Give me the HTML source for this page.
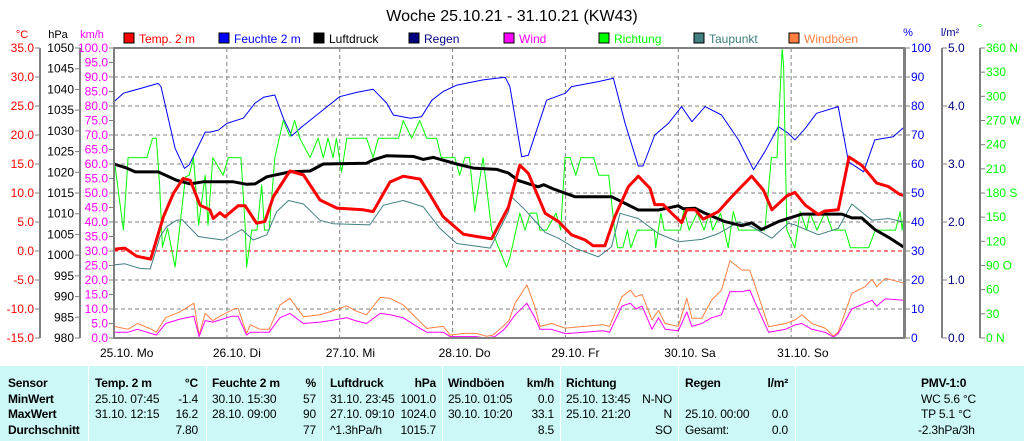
<!DOCTYPE html>
<html><head><meta charset="utf-8"><style>
body{margin:0;width:1024px;height:441px;background:#fff;overflow:hidden;font-family:"Liberation Sans",sans-serif;position:relative}
#tbl{position:absolute;left:0;top:366px;width:1024px;height:75px;background:#ccf8f8;font-size:12px;color:#000}
#tbl .sep{position:absolute;top:0;width:1px;height:75px;background:#fff}
#tbl span{position:absolute;white-space:nowrap;letter-spacing:-0.2px}
#tbl .b{font-weight:bold}
</style></head><body>
<svg id="chart" width="1024" height="366" style="position:absolute;left:0;top:0" font-family="Liberation Sans, sans-serif" font-size="12"></svg>
<div id="tbl">
<div class="sep" style="left:88px"></div><div class="sep" style="left:206px"></div><div class="sep" style="left:322px"></div><div class="sep" style="left:442px"></div><div class="sep" style="left:560px"></div><div class="sep" style="left:678px"></div><div class="sep" style="left:795px"></div>
<span class="b" style="left:8px;top:10px">Sensor</span><span class="b" style="left:8px;top:26px">MinWert</span><span class="b" style="left:8px;top:41px">MaxWert</span><span class="b" style="left:8px;top:57px">Durchschnitt</span>
<span class="b" style="left:95px;top:10px">Temp. 2 m</span><span class="b" style="right:826px;top:10px">°C</span>
<span style="left:95px;top:26px">25.10.  07:45</span><span style="right:826px;top:26px">-1.4</span>
<span style="left:95px;top:41px">31.10.  12:15</span><span style="right:826px;top:41px">16.2</span>
<span style="right:826px;top:57px">7.80</span>
<span class="b" style="left:212px;top:10px">Feuchte  2 m</span><span class="b" style="right:708px;top:10px">%</span>
<span style="left:212px;top:26px">30.10.  15:30</span><span style="right:708px;top:26px">57</span>
<span style="left:212px;top:41px">28.10.  09:00</span><span style="right:708px;top:41px">90</span>
<span style="right:708px;top:57px">77</span>
<span class="b" style="left:330px;top:10px">Luftdruck</span><span class="b" style="right:588px;top:10px">hPa</span>
<span style="left:330px;top:26px">31.10.  23:45</span><span style="right:588px;top:26px">1001.0</span>
<span style="left:330px;top:41px">27.10.  09:10</span><span style="right:588px;top:41px">1024.0</span>
<span style="left:330px;top:57px">^1.3hPa/h</span><span style="right:588px;top:57px">1015.7</span>
<span class="b" style="left:448px;top:10px">Windböen</span><span class="b" style="right:470px;top:10px">km/h</span>
<span style="left:448px;top:26px">25.10.  01:05</span><span style="right:470px;top:26px">0.0</span>
<span style="left:448px;top:41px">30.10.  10:20</span><span style="right:470px;top:41px">33.1</span>
<span style="right:470px;top:57px">8.5</span>
<span class="b" style="left:566px;top:10px">Richtung</span>
<span style="left:566px;top:26px">25.10.  13:45</span><span style="right:352px;top:26px">N-NO</span>
<span style="left:566px;top:41px">25.10.  21:20</span><span style="right:352px;top:41px">N</span>
<span style="right:352px;top:57px">SO</span>
<span class="b" style="left:685px;top:10px">Regen</span><span class="b" style="right:236px;top:10px">l/m²</span>
<span style="left:685px;top:41px">25.10.  00:00</span><span style="right:236px;top:41px">0.0</span>
<span style="left:685px;top:57px">Gesamt:</span><span style="right:236px;top:57px">0.0</span>
<span class="b" style="left:921px;top:10px">PMV-1:0</span>
<span style="left:921px;top:26px">WC 5.6 °C</span><span style="left:921px;top:41px">TP 5.1 °C</span><span style="left:918px;top:57px">-2.3hPa/3h</span>
</div>
<script>
const dayLabels=["25.10. Mo","26.10. Di","27.10. Mi","28.10. Do","29.10. Fr","30.10. Sa","31.10. So"];
const tempTicks=[35,30,25,20,15,10,5,0,-5,-10,-15];
const pressTicks=[1050,1045,1040,1035,1030,1025,1020,1015,1010,1005,1000,995,990,985,980];
const windTicks=[100,95,90,85,80,75,70,65,60,55,50,45,40,35,30,25,20,15,10,5,0];
const humTicks=[100,90,80,70,60,50,40,30,20,10,0];
const rainTicks=[5,4,3,2,1,0];
const dirTicks=[360,330,300,270,240,210,180,150,120,90,60,30,0];
const dirNames={360:"N",270:"W",180:"S",90:"O",0:"N"};
const humidity=[[0,81.5],[2,84.4],[5.5,86],[9.4,87.8],[10,86.7],[13,65.4],[15,58.5],[16,59.7],[19.4,71],[20.4,71],[22.2,71.7],[24,74],[27.5,75.8],[30,81],[31.8,83],[34.2,83.8],[36,75.8],[37.8,69.7],[40,72.9],[43.1,76.9],[48,83.2],[51.6,84.7],[55.1,85.8],[58,81],[59.4,76.9],[63,75.8],[65.4,76.3],[67.6,82],[70,85],[72.9,87.2],[78.5,89],[83.2,89.9],[84.2,86.7],[86.7,62.5],[88.1,63],[92,82],[96,84.4],[97.3,86.7],[103,88.4],[106.2,89.6],[108.7,74],[111.5,59.3],[112.5,59.3],[115,70],[117.9,74],[120.7,79.8],[122.9,74.6],[125.7,79.8],[129.2,76.9],[132.8,68.3],[136,58],[138.4,64.2],[141.3,72.9],[143.4,70.6],[144.8,68.3],[147,72.3],[149.4,77.5],[154,79.8],[156.2,60.8],[159.4,57.3],[161.8,68.3],[165.7,69.4],[168,72.7]];
const temperature=[[0,0.3],[2.3,0.5],[4.8,-0.9],[7.8,-1.4],[10.5,5.9],[12.6,9.9],[14.7,12.5],[16.2,12.2],[18.3,7.9],[20.4,7.1],[21.1,5.6],[22.5,6.6],[23.6,5.9],[26.4,7.8],[27.9,7.8],[30.3,4.8],[32.1,5.1],[33.9,9.4],[37.4,13.8],[40.3,13.1],[43.8,8.8],[47.4,7.4],[53,7.1],[55.1,6.8],[58.7,11.9],[61.5,12.9],[65.1,12.4],[67.2,9.7],[70,5.9],[74.3,2.9],[77.1,2.5],[80.3,2.1],[83.9,7.6],[86.3,14.8],[88.1,13.4],[91.7,6.5],[94.5,5.1],[97.3,2.8],[100.2,1.9],[101.9,0.9],[104.4,0.9],[106.5,5.9],[109.4,11.1],[111.5,12.9],[114,10.8],[115,8.0],[116.8,8.0],[118.6,6.5],[120.7,4.9],[121.8,7.1],[123.6,7.1],[125.3,5.5],[128.5,6.8],[131.4,9.4],[135.6,12.9],[138.1,10.5],[139.9,7.1],[143.1,9.5],[144.8,10.1],[147,7.9],[149.8,6.3],[151.2,6.9],[154,7.1],[156.3,16.2],[159,14.8],[162.2,11.7],[164.7,11.1],[167.2,9.7],[168,9.6]];
const pressure=[[0,1022],[2.7,1021],[4.5,1020.1],[9.4,1020.1],[13.3,1018.1],[16.2,1017.2],[19,1017.7],[25.4,1017.7],[28.2,1017.1],[30,1017.2],[32.5,1018.9],[37.4,1020.1],[41.7,1020.3],[44.5,1022],[53.7,1022.2],[55.1,1023],[58,1024],[63.7,1023.8],[65.8,1023.1],[67.9,1023.6],[72.9,1022],[76.4,1021],[81.4,1020.7],[83.9,1019.8],[86,1018],[90.2,1016.5],[91.4,1017],[93.4,1016],[98,1014.1],[105.8,1014.1],[111.5,1010.9],[115.8,1010.9],[120,1011.9],[121,1011.2],[123.6,1011.3],[125.7,1010.1],[129.9,1008.1],[133.5,1007.1],[135.6,1007.8],[137.7,1006.2],[141.3,1008.1],[146.3,1009.9],[154.8,1009.9],[156.9,1009],[159,1009],[161.8,1006.2],[164.7,1004.3],[168,1001.9]];
const dewpoint=[[0,-2.4],[2.3,-2.2],[5.5,-3],[7.7,-3.1],[9.8,2.5],[11.2,4.2],[13.3,5.3],[14.5,5.4],[17.9,2.5],[20.4,2.2],[23.2,1.9],[27.2,3.7],[29.6,1.9],[32.5,2.8],[34.6,6.8],[37.1,8.7],[40.3,8.1],[43.8,5.3],[46.6,4.7],[54.4,4.5],[57.3,7.9],[61.5,8.7],[65.8,7.6],[69.3,3.9],[72.9,1.3],[75.6,1],[80,0.5],[83.9,6.8],[84.6,9.3],[87.4,7.1],[91.7,3.2],[94.5,2.2],[98,0.5],[103,-1],[105.8,0.7],[107.6,6.5],[111.5,5.6],[115.8,3],[120,1.6],[125,2],[128.5,3],[132.8,5],[135.6,4.2],[139.9,2.2],[143.4,4.8],[144.8,4.5],[149.8,2.8],[154,3.9],[156.9,8.1],[161.2,5.3],[164.7,5.6],[168,5]];
const gusts=[[0,4],[3,3],[5,5],[8,3],[9,2],[11,7],[14,9],[17,12],[18.1,1],[19.4,8.5],[21,6],[22.5,7.5],[25.7,10.2],[26.4,10.2],[28.2,1.6],[29,4.6],[31,3],[33,3],[35.3,11.4],[37.4,13.7],[40.3,7.3],[43.8,8],[45.9,9],[49.5,11.1],[51.3,9.4],[53.7,8],[56.6,14],[58.7,13.7],[61.5,11.4],[64.4,6.7],[66.5,3.3],[70,4],[71.5,1],[74.3,1.6],[77.1,1.6],[79.2,0.6],[80.6,1],[82.7,4],[84,6],[85.3,12],[87.8,18.3],[89.5,10.8],[90.6,4],[93.1,5],[95.9,3.4],[100,4],[104,4.6],[105.4,4],[108,14.2],[109.8,16.5],[110.9,14.2],[112.3,15],[114.4,6.2],[115.8,9.5],[117.2,5],[120,4],[121.8,13.7],[122.9,6.8],[125,6.8],[127.1,13.1],[129.2,16.5],[131,26.7],[133.5,23.4],[135.2,23.4],[136.4,17.7],[139.2,3.9],[142.8,5],[144.8,6.2],[146.3,8],[148.4,5],[151.2,3.4],[153,0.7],[154,2],[156.9,15.4],[159.7,17.7],[161.2,20.2],[162.2,17.7],[164,20.6],[168,18.9]];
const wind=[[0,2],[3,2],[5,3],[8,1.5],[9,1],[11,5],[14,6.5],[17,7.5],[18.1,0.5],[19.4,6],[21,5.5],[25,7.5],[26.4,7.5],[28.2,1],[29,2],[31,2],[33,2],[35.3,7],[37.4,8.5],[40.3,5],[43.8,5.5],[46,6],[49.5,7],[51.3,6],[53.7,5],[56.6,8.5],[58.7,8],[61.5,7],[64.4,4],[66.5,2],[70,2],[71.5,0.5],[74,0.5],[77,0.5],[79,0],[81,0.5],[83,3],[84,5],[85.3,8],[87.8,12],[89.5,7],[90.6,3],[93,3],[96,1.5],[100,2],[104,2.5],[105.4,2],[108,11],[109.8,12],[111,10],[112.3,11],[114.4,3],[115.8,7],[117.2,3],[120,2.5],[121.8,9],[122.9,4],[125,5],[127.1,7],[129.2,8],[131,16],[133.5,16],[135.2,16.5],[136.4,12],[139.2,2],[142.8,3],[144.8,4.5],[146.3,5],[148.4,3],[151.2,2],[153,0.3],[154,1.5],[156.9,10],[159.7,12],[161.2,13],[162.2,11],[164,13.5],[168,13]];
const direction=[[0,224],[2,134],[3,224],[7,224],[8.2,248],[9,248],[9.7,190],[10.3,113],[11.4,136],[13,88],[15.2,200],[16,202],[16.9,224],[18,140],[19.4,202],[20,140],[21,224],[23.2,202],[24.3,224],[27,224],[27.9,137],[28.2,88],[29.3,134],[30.4,134],[31.4,190],[32,134],[33,134],[34.2,224],[36,270],[37.4,250],[38.4,270],[39.5,248],[41.7,224],[43.4,248],[44.5,224],[45.5,248],[46.6,224],[47.3,248],[48.4,206],[49.5,248],[53.7,248],[55.1,224],[56.2,248],[60.5,248],[61.5,270],[63.3,248],[65,270],[66.5,248],[68.6,248],[69.6,224],[72.5,224],[73.5,202],[74.6,224],[75.6,224],[76.7,157],[78.5,224],[80.3,134],[83.5,88],[84.2,100],[86.3,155],[87.4,134],[88.5,155],[89.9,155],[90.6,134],[92,134],[94,155],[95,134],[95.9,224],[97,224],[98.2,202],[99.3,224],[102,224],[103.1,202],[105.2,202],[106.4,137],[107.1,112],[108.2,112],[109.2,134],[109.9,112],[111.3,134],[114.9,134],[115.2,112],[116.3,155],[117,134],[120.5,134],[121.2,160],[122.3,134],[124,155],[125.5,134],[126.6,155],[127.3,134],[129,155],[130.6,112],[131.7,157],[132.8,134],[138.4,134],[139.8,224],[141,224],[142.1,360],[142.4,337],[143.1,134],[144.8,112],[145.9,157],[147.3,134],[148,155],[149.5,134],[151.3,157],[152.7,134],[155.5,134],[156.6,112],[160.5,112],[161.9,134],[166.2,134],[167.2,157],[167.6,134],[168,155]];
const legendItems=[["Temp. 2 m","#ff0000"],["Feuchte  2 m","#0000ff"],["Luftdruck","#000000"],["Regen","#000080"],["Wind","#ff00ff"],["Richtung","#00ff00"],["Taupunkt","#408080"],["Windböen","#ff8040"]];

const NS="http://www.w3.org/2000/svg",svg=document.getElementById("chart");
const L=114,R=904,T=48,B=338,H=B-T;
const xH=h=>L+h*(R-L)/168;
const yTemp=v=>B-(v+15)/50*H, yPress=v=>B-(v-980)/70*H, yWind=v=>B-v/100*H, yHum=v=>B-v/100*H, yRain=v=>B-v/5*H, yDir=v=>B-v/360*H;
function el(t,a,p){const e=document.createElementNS(NS,t);for(const k in a)e.setAttribute(k,a[k]);(p||svg).appendChild(e);return e;}
function txt(x,y,s,col,anchor,size){const e=el("text",{x:x,y:y,fill:col,"text-anchor":anchor||"start"});if(size)e.setAttribute("font-size",size);e.textContent=s;return e;}

let t=txt(512,21,"Woche 25.10.21 - 31.10.21 (KW43)","#000","middle",16);



// grid
const grid=el("g",{stroke:"#808080","stroke-width":1,"stroke-dasharray":"4,3"});


humTicks.forEach(v=>{if(v>0&&v<100){const y=yHum(v);el("line",{x1:L,x2:R,y1:y,y2:y},grid);}});
for(let d=1;d<7;d++){const x=xH(d*24);el("line",{x1:x,x2:x,y1:T,y2:B},grid);}
const zl=el("line",{x1:L,x2:R,y1:yTemp(0),y2:yTemp(0),stroke:"#ff0000","stroke-dasharray":"4,3"});



// axes
function axis(name,x,ticks,fn,col,side,fmt){
 const g=el("g",{});
 
 
 el("line",{x1:x,x2:x,y1:T,y2:B,stroke:"#808080","stroke-width":2},g);
 ticks.forEach(v=>{const y=fn(v);
  if(side=="l"){el("line",{x1:x-5,x2:x,y1:y,y2:y,stroke:"#808080"},g);const e=txt(x-6,y+4,fmt(v),col,"end");g.appendChild(e);}
  else{el("line",{x1:x,x2:x+5,y1:y,y2:y,stroke:"#808080"},g);const e=txt(x+6,y+4,fmt(v),col,"start");g.appendChild(e);}
 });
}
axis("temperature-axis",40,tempTicks,yTemp,"#ff0000","l",v=>v.toFixed(1));
axis("pressure-axis",80,pressTicks,yPress,"#000","l",v=>String(v));
axis("wind-axis",114,windTicks,yWind,"#ff00ff","l",v=>v.toFixed(1));
axis("humidity-axis",905,humTicks,yHum,"#0000ff","r",v=>String(v));
axis("rain-axis",942,rainTicks,yRain,"#000080","r",v=>v.toFixed(1));
axis("direction-axis",980,dirTicks,yDir,"#00ff00","r",v=>dirNames[v]!==undefined?(v+(v==90?"  ":" ")+dirNames[v]):String(v));
const units=[[22,38,"°C","#ff0000"],[58,38,"hPa","#000"],[92,38,"km/h","#ff00ff"],[908,36,"%","#0000ff"],[950,36,"l/m²","#000080"],[980,32,"°","#00ff00"]];
units.forEach(u=>{const e=txt(u[0],u[1],u[2],u[3],"middle",11);
 
 });

// day labels
dayLabels.forEach((s,i)=>{const e=txt(xH(i*24)-14,357,s,"#000","start",12);
 
 });

// legend
legendItems.forEach((it,i)=>{const g=el("g",{});
 
 
 const x=124+i*95;
 el("rect",{x:x,y:33,width:10,height:10,fill:it[1],stroke:"#000","stroke-width":1},g);
 const e=txt(x+15,43,it[0],it[1]);g.appendChild(e);});

// series
function line(data,fy,col,w,name){
 const pts=data.map(p=>xH(p[0]).toFixed(1)+","+fy(p[1]).toFixed(1)).join(" ");
 const e=el("polyline",{points:pts,fill:"none",stroke:col,"stroke-width":w,"stroke-linejoin":"round"});
 
 
}
line(humidity,yHum,"#0000ff",1,"humidity-line");
line(direction,yDir,"#00ff00",1,"direction-line");
line(dewpoint,yTemp,"#408080",1,"dewpoint-line");
line(gusts,yWind,"#ff8040",1,"gust-line");
line(wind,yWind,"#ff00ff",1,"wind-line");
line(pressure,yPress,"#000000",3,"pressure-line");
line(temperature,yTemp,"#ff0000",3,"temperature-line");

// frame
const fr=el("rect",{x:L,y:T,width:R-L,height:H,fill:"none",stroke:"#808080","stroke-width":2});


</script>
</body></html>
